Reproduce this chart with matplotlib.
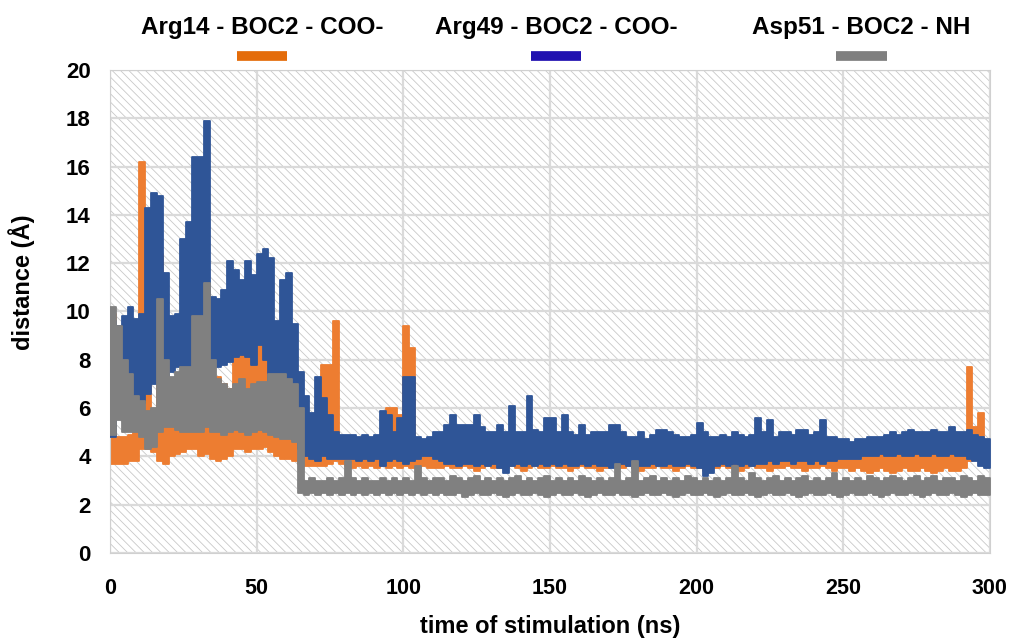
import numpy as np
import matplotlib
matplotlib.use("Agg")
import matplotlib.pyplot as plt
from matplotlib.patches import Rectangle
from matplotlib.lines import Line2D

plt.rcParams['font.family'] = ['Liberation Sans', 'DejaVu Sans']
plt.rcParams['hatch.linewidth'] = 0.6

# time axis (ns), one sample every 2 ns; each series is stored as the low / high
# edge of its (very noisy) trace in that 2 ns window
t = np.arange(0, 301, 2)

arg14_hi = [9.9, 4.8, 4.8, 4.9, 5.0, 16.2, 14.1, 5.8, 12.4, 6.0,
            6.0, 6.0, 6.0, 6.2, 12.2, 8.0, 8.0, 7.0, 7.3, 7.0,
            6.8, 8.3, 8.3, 8.3, 9.1, 9.0, 8.5, 8.0, 9.1, 8.0,
            7.4, 7.5, 4.6, 4.6, 4.6, 4.6, 7.8, 7.8, 9.6, 4.4,
            4.4, 4.4, 4.3, 4.4, 4.3, 4.4, 4.4, 6.0, 6.0, 5.7,
            9.4, 8.5, 4.4, 4.3, 4.3, 4.2,
            4.2, 4.1, 4.2, 4.0, 4.1, 4.3, 4.2, 4.0, 4.1, 4.2,
            4.1, 4.2, 4.0, 4.1, 4.2, 4.1, 4.3, 4.2, 4.1, 5.0,
            4.4, 4.2, 4.1, 4.3, 4.2, 4.1, 4.3, 4.2, 4.0, 4.1,
            4.4, 4.2, 4.1, 4.3, 4.2, 4.0, 4.1, 4.2, 4.1, 4.0,
            4.1, 4.0, 4.1, 4.2, 4.0, 3.9, 4.1, 4.2, 4.3, 4.2,
            4.4, 4.3, 4.2, 4.1, 4.0, 4.2, 4.3, 4.1, 4.0, 4.1,
            4.2, 4.0, 4.1, 4.1, 4.0, 4.1, 4.0, 4.0, 4.1, 4.0,
            4.1, 4.2, 4.3, 4.4, 4.3, 4.2, 4.4, 4.3, 4.2, 4.3,
            4.4, 4.3, 4.2, 4.3, 4.4, 4.3, 4.2, 4.3, 4.3, 4.3,
            7.7, 5.2, 5.8, 4.6, 4.6]
arg14_lo = [3.7, 3.7, 3.7, 3.8, 3.8, 4.3, 4.3, 4.2, 3.8, 3.7,
            4.0, 4.1, 4.2, 4.3, 4.3, 4.0, 4.1, 3.9, 3.8, 3.9,
            4.0, 4.3, 4.3, 4.2, 4.3, 4.3, 4.4, 4.2, 4.0, 3.9,
            3.9, 3.8, 3.7, 3.6, 3.6, 3.6, 3.6, 3.7, 3.8, 3.7,
            3.6, 3.5, 3.6, 3.5, 3.6, 3.5, 3.6, 3.5, 3.6, 3.5,
            3.6, 3.5, 3.5, 3.6, 3.5, 3.5,
            3.5, 3.6, 3.5, 3.5, 3.6, 3.5, 3.4, 3.5, 3.6, 3.5,
            3.5, 3.5, 3.6, 3.5, 3.4, 3.5, 3.6, 3.5, 3.5, 3.6,
            3.5, 3.5, 3.4, 3.5, 3.6, 3.5, 3.5, 3.4, 3.5, 3.6,
            3.5, 3.5, 3.6, 3.5, 3.4, 3.5, 3.5, 3.6, 3.5, 3.5,
            3.4, 3.5, 3.6, 3.5, 3.5, 3.4, 3.5, 3.5, 3.6, 3.5,
            3.5, 3.4, 3.5, 3.6, 3.5, 3.5, 3.4, 3.5, 3.5, 3.6,
            3.5, 3.5, 3.4, 3.5, 3.5, 3.6, 3.5, 3.4, 3.5, 3.5,
            3.4, 3.5, 3.4, 3.3, 3.4, 3.5, 3.4, 3.3, 3.4, 3.5,
            3.4, 3.4, 3.5, 3.4, 3.3, 3.4, 3.5, 3.4, 3.4, 3.5,
            3.8, 4.0, 3.9, 4.0, 4.0]

arg49_hi = [9.6, 9.4, 9.8, 10.2, 9.7, 9.9, 14.3, 14.9, 14.8, 11.6,
            9.8, 9.9, 13.0, 13.7, 16.4, 16.4, 17.9, 10.6, 10.5, 10.9,
            12.1, 11.7, 11.3, 12.1, 11.5, 12.4, 12.6, 12.2, 9.6, 11.3,
            11.6, 9.5, 7.5, 6.5, 5.8, 7.3, 6.4, 5.7, 5.0, 4.9,
            4.9, 4.9, 4.8, 4.9, 4.8, 4.9, 5.9, 5.7, 5.0, 5.6,
            7.3, 7.3, 4.8, 4.7, 4.8, 5.0,
            5.0, 5.3, 5.7, 5.3, 5.3, 5.3, 5.7, 5.2, 5.0, 5.0,
            5.3, 5.0, 6.1, 5.0, 5.0, 6.5, 5.1, 5.0, 5.6, 5.6,
            5.0, 5.7, 5.0, 4.9, 5.3, 4.9, 5.0, 5.0, 5.0, 5.3,
            5.3, 5.0, 4.8, 4.8, 5.0, 4.7, 4.9, 5.1, 5.1, 5.0,
            4.9, 4.8, 4.8, 4.9, 5.4, 5.0, 4.8, 4.8, 4.9, 4.8,
            5.0, 4.9, 4.8, 4.9, 5.6, 5.0, 5.5, 4.8, 5.0, 5.0,
            4.9, 5.1, 5.1, 4.9, 5.0, 5.5, 4.8, 4.8, 4.7, 4.7,
            4.6, 4.7, 4.7, 4.8, 4.8, 4.8, 4.9, 5.0, 4.9, 5.0,
            5.1, 5.0, 5.0, 5.0, 5.1, 5.0, 5.0, 5.2, 5.0, 5.0,
            5.1, 4.9, 4.8, 4.7, 4.7]
arg49_lo = [4.8, 5.8, 6.0, 6.2, 6.0, 6.2, 6.6, 7.0, 7.0, 7.0,
            7.5, 7.7, 7.7, 7.6, 7.5, 7.5, 7.6, 7.7, 7.7, 7.8,
            7.9, 8.1, 8.2, 8.1, 7.8, 8.6, 8.0, 7.0, 6.8, 6.8,
            6.9, 6.5, 4.3, 4.0, 3.9, 3.8, 4.0, 3.9, 3.9, 3.9,
            3.9, 3.9, 3.8, 3.9, 3.8, 3.9, 3.6, 3.8, 3.9, 3.8,
            3.7, 3.8, 3.9, 4.0, 4.0, 3.9,
            3.8, 3.7, 3.7, 3.6, 3.7, 3.7, 3.6, 3.7, 3.6, 3.7,
            3.5, 3.3, 3.6, 3.7, 3.6, 3.7, 3.6, 3.7, 3.6, 3.7,
            3.6, 3.7, 3.6, 3.6, 3.7, 3.6, 3.7, 3.6, 3.6, 3.5,
            3.6, 3.7, 3.6, 3.5, 3.6, 3.6, 3.7, 3.6, 3.6, 3.7,
            3.6, 3.6, 3.7, 3.6, 3.5, 3.2, 3.3, 3.6, 3.7, 3.6,
            3.7, 3.6, 3.7, 3.6, 3.7, 3.7, 3.8, 3.7, 3.8, 3.8,
            3.7, 3.8, 3.8, 3.7, 3.8, 3.7, 3.8, 3.8, 3.9, 3.9,
            3.9, 3.9, 4.0, 4.0, 4.0, 4.1, 4.0, 4.0, 4.1, 4.0,
            4.0, 4.1, 4.0, 4.0, 4.1, 4.0, 4.0, 4.1, 4.0, 4.0,
            3.9, 3.8, 3.6, 3.5, 3.5]

asp51_hi = [10.2, 9.4, 8.0, 7.4, 6.5, 6.3, 5.9, 6.0, 10.5, 8.0,
            7.3, 7.5, 7.7, 7.7, 9.8, 9.8, 11.2, 8.0, 7.2, 7.0,
            6.8, 7.0, 7.2, 6.8, 7.0, 7.1, 7.1, 7.4, 7.4, 7.4,
            7.2, 7.0, 6.0, 3.0, 3.1, 3.0, 3.0, 3.1, 3.0, 3.1,
            3.8, 3.1, 3.0, 3.1, 3.0, 3.0, 3.1, 3.0, 3.1, 3.0,
            3.1, 3.0, 3.6, 3.1, 3.0, 3.1,
            3.1, 3.0, 3.2, 3.1, 3.0, 3.1, 3.2, 3.0, 3.1, 3.0,
            3.1, 3.0, 3.1, 3.2, 3.0, 3.1, 3.0, 3.1, 3.2, 3.0,
            3.1, 3.0, 3.1, 3.0, 3.2, 3.1, 3.0, 3.1, 3.0, 3.1,
            3.7, 3.0, 3.1, 3.8, 3.0, 3.1, 3.2, 3.0, 3.1, 3.0,
            3.1, 3.0, 3.2, 3.1, 3.0, 3.1, 3.0, 3.1, 3.0, 3.1,
            3.6, 3.1, 3.0, 3.3, 3.1, 3.0, 3.1, 3.2, 3.0, 3.1,
            3.0, 3.1, 3.2, 3.0, 3.1, 3.0, 3.1, 3.3, 3.0, 3.1,
            3.0, 3.1, 3.0, 3.2, 3.1, 3.0, 3.1, 3.2, 3.1, 3.0,
            3.1, 3.2, 3.0, 3.1, 3.2, 3.0, 3.1, 3.1, 3.0, 3.2,
            3.1, 3.0, 3.2, 3.1, 3.0]
asp51_lo = [4.9, 5.5, 5.0, 5.0, 5.0, 4.8, 4.3, 4.4, 5.0, 5.2,
            5.2, 5.1, 5.0, 5.0, 5.0, 5.0, 5.2, 5.0, 5.0, 4.9,
            5.0, 5.1, 5.0, 4.9, 5.0, 5.1, 5.0, 4.9, 4.8, 4.7,
            4.7, 4.6, 2.5, 2.4, 2.5, 2.4, 2.5, 2.4, 2.5, 2.4,
            2.5, 2.4, 2.5, 2.4, 2.5, 2.4, 2.5, 2.4, 2.5, 2.4,
            2.5, 2.4, 2.5, 2.4, 2.5, 2.4,
            2.5, 2.4, 2.4, 2.5, 2.3, 2.4, 2.5, 2.4, 2.4, 2.5,
            2.4, 2.3, 2.4, 2.5, 2.4, 2.4, 2.5, 2.4, 2.3, 2.4,
            2.5, 2.4, 2.4, 2.5, 2.4, 2.3, 2.4, 2.5, 2.4, 2.4,
            2.5, 2.4, 2.4, 2.3, 2.4, 2.5, 2.4, 2.4, 2.5, 2.4,
            2.3, 2.4, 2.5, 2.4, 2.4, 2.5, 2.4, 2.3, 2.4, 2.5,
            2.4, 2.4, 2.5, 2.4, 2.3, 2.4, 2.5, 2.4, 2.4, 2.5,
            2.4, 2.3, 2.4, 2.5, 2.4, 2.4, 2.5, 2.4, 2.3, 2.4,
            2.5, 2.4, 2.4, 2.5, 2.4, 2.3, 2.4, 2.5, 2.4, 2.4,
            2.5, 2.4, 2.3, 2.4, 2.5, 2.4, 2.4, 2.5, 2.4, 2.3,
            2.4, 2.5, 2.4, 2.4, 2.5]

labels = ['Arg14 - BOC2 - COO-', 'Arg49 - BOC2 - COO-', 'Asp51 - BOC2 - NH']
colors = ['#ED7D31', '#2F5597', '#808080']
key_colors = ['#E46C0A', '#2010B0', '#7F7F7F']

fig = plt.figure(figsize=(10.11, 6.41), dpi=100)
ax = fig.add_axes([0.1088, 0.1373, 0.8704, 0.7535])

# hatched plot background
ax.add_patch(Rectangle((0, 0), 1, 1, transform=ax.transAxes, facecolor='white',
                       edgecolor='#c8c8c8', hatch='\\\\\\\\', lw=0, zorder=0))
ax.set_axisbelow(True)
ax.grid(True, color='#dadada', lw=1.6)

series = [(arg14_lo, arg14_hi), (arg49_lo, arg49_hi), (asp51_lo, asp51_hi)]
for (lo, hi), c, z in zip(series, colors, [2, 3, 4]):
    ax.fill_between(t, lo, hi, step='post', facecolor=c, edgecolor=c,
                    lw=1.3, zorder=z)

ax.set_xlim(0, 300)
ax.set_ylim(0, 20)
ax.set_xticks(np.arange(0, 301, 50))
ax.set_yticks(np.arange(0, 21, 2))
ax.tick_params(length=0)
ax.tick_params(axis='y', pad=14, labelsize=16)
ax.tick_params(axis='x', pad=18, labelsize=15.5)
for lab in ax.get_xticklabels() + ax.get_yticklabels():
    lab.set_fontweight('bold')
for s in ax.spines.values():
    s.set_color('#d0d0d0')

ax.set_xlabel('time of stimulation (ns)', fontsize=17, fontweight='bold')
ax.xaxis.set_label_coords(0.5, -0.128)
ax.set_ylabel('distance (Å)', fontsize=17, fontweight='bold')
ax.yaxis.set_label_coords(-0.085, 0.56)

# legend: label above a short colour key
key_x = [0.259, 0.550, 0.852]
for lab, kc, x in zip(labels, key_colors, key_x):
    fig.text(x, 0.957, lab, ha='center', va='center', fontsize=17.5, fontweight='bold')
    fig.add_artist(Line2D([x - 0.025, x + 0.025], [0.913, 0.913], color=kc, lw=7,
                          solid_capstyle='butt', transform=fig.transFigure))

fig.savefig('out.png', dpi=100)
